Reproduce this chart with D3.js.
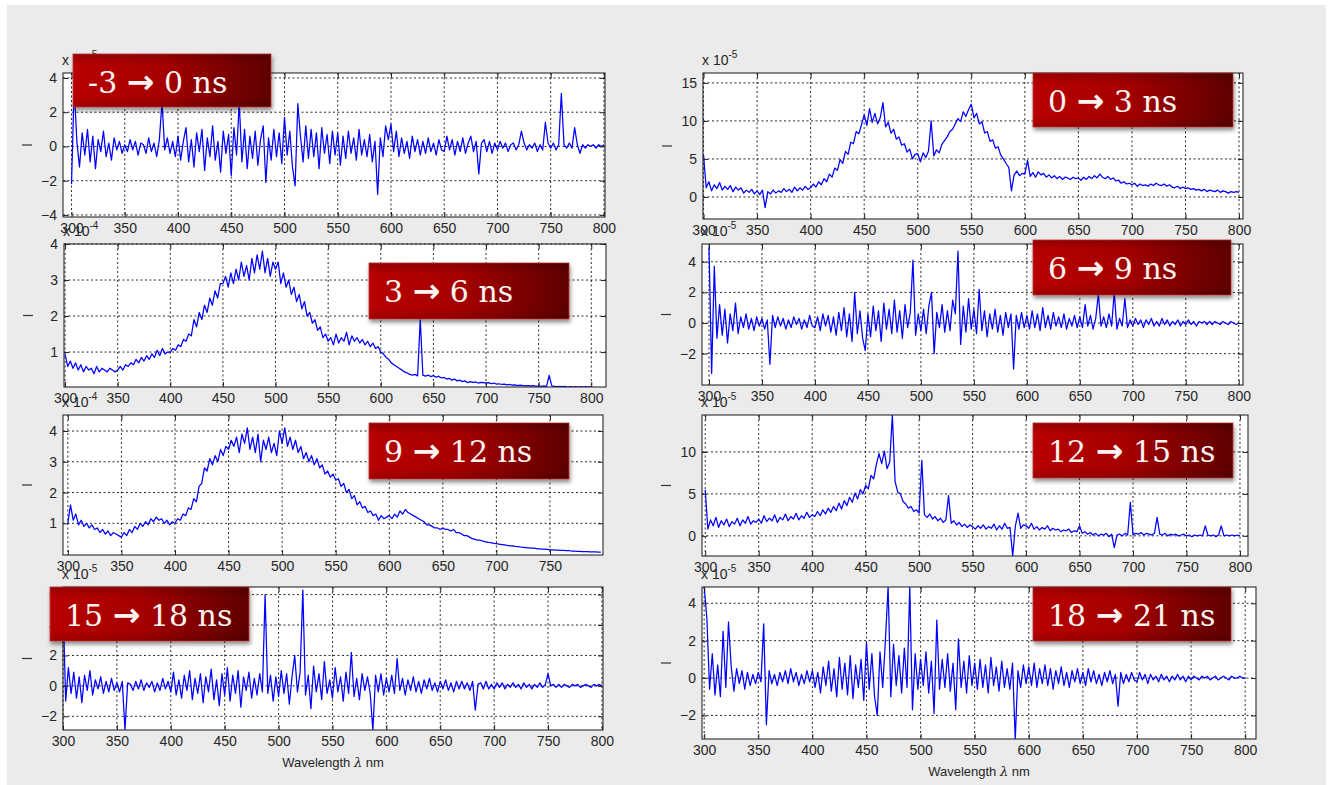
<!DOCTYPE html>
<html><head><meta charset="utf-8">
<script src="https://cdn.jsdelivr.net/npm/d3@7"></script>
<style>body{margin:0;background:#fff;} svg{display:block}</style>
</head><body><svg id="c" width="1331" height="785"></svg>
<script>
// ---- DATA (values in units of the panel multiplier) ----
const wavelengthStart = 300, wavelengthStep = 2.5; // nm, sampling grid of every series
const xTickValues = [300, 350, 400, 450, 500, 550, 600, 650, 700, 750, 800];
const panelLabels = ["-3", "0", "3", "9", "15", "6", "12", "18"];
const panelLabelEnds = ["0", "3", "6", "12", "18", "9", "15", "21"];
const exponents = [-5, -5, -4, -4, -5, -5, -5, -5];
const yTicks = [[-4,-2,0,2,4],[0,5,10,15],[1,2,3,4],[1,2,3,4],[-2,0,2,4,6],[-2,0,2,4],[0,5,10],[-2,0,2,4]];

const s_m3_0 = [-2.2,3.5,0.3,-1.2,0.8,-0.5,1.0,-0.9,0.6,-1.3,0.4,-0.3,0.9,-0.6,0.2,-0.8,0.5,-0.2,0.3,-0.4,
 0.1,-0.3,0.4,-0.2,0.3,-0.5,0.2,0.1,-0.4,0.5,-0.3,0.2,-0.6,0.4,2.6,-0.2,0.5,-0.4,0.3,-0.6,
 0.6,-0.8,0.3,1.1,-0.9,0.4,-1.2,0.8,-0.3,1.0,-1.4,0.5,-0.6,1.2,-0.8,0.3,-1.5,0.9,-0.4,0.7,
 -1.7,1.1,-0.5,2.6,-0.9,1.0,-1.3,0.6,-0.7,0.9,-1.1,0.4,1.2,-2.1,0.5,-0.8,1.0,-0.6,0.8,-1.0,
 1.7,-0.5,0.9,-1.2,-2.3,2.5,0.6,-0.9,1.2,-0.7,1.0,-0.6,0.8,-1.3,1.1,-0.4,0.7,-1.0,0.9,-0.5,
 0.8,-1.1,0.6,-0.7,0.9,-0.4,0.5,-0.8,1.0,-0.5,0.4,-0.6,0.7,-0.9,0.3,-2.8,0.5,-0.6,1.2,0.4,
 1.3,-0.3,0.9,-0.6,0.5,-0.4,0.3,-0.7,0.6,-0.3,0.4,-0.5,0.3,-0.4,0.5,-0.3,0.2,-0.5,0.4,-0.2,
 -0.3,0.6,-0.2,0.4,-0.5,0.3,-0.3,0.5,-0.4,0.2,0.6,-0.3,0.3,-1.6,0.2,0.4,-0.3,0.3,-0.4,0.2,
 -0.2,0.3,-0.1,0.2,-0.3,0.1,0.2,-0.2,0.1,0.9,0.2,-0.2,0.1,-0.1,0.2,-0.3,0.1,-0.2,1.4,0.2,
 -0.1,0.2,-0.2,0.1,3.1,0.1,-0.1,0.2,-0.1,1.1,0.1,-0.4,0.1,-0.1,0.1,0.0,0.1,-0.1,0.1,0.0,
 0.1];
const s_0_3 = [5.5,1.2,2.0,0.8,1.6,1.1,1.9,0.9,1.4,1.0,1.5,0.7,1.3,0.9,1.2,0.5,0.9,0.6,1.0,0.4,
 0.8,0.3,0.9,-1.4,0.7,0.4,0.9,0.5,0.8,0.6,1.1,0.7,1.0,0.6,1.3,0.8,1.2,0.9,1.4,1.0,
 1.2,1.7,1.3,2.0,1.6,2.4,2.0,3.0,2.6,3.8,3.5,4.9,4.4,6.0,5.6,7.2,7.0,8.6,8.3,9.5,
 10.8,9.4,11.6,9.8,11.0,9.6,10.4,12.4,9.2,9.8,8.4,8.9,7.6,7.9,6.8,7.0,5.9,6.3,5.0,5.6,
 5.7,4.6,5.8,5.2,6.0,10.0,5.4,6.2,5.8,6.9,7.4,7.9,8.6,8.9,9.6,10.3,9.9,11.2,10.6,11.5,
 12.2,10.4,11.0,9.6,9.9,8.4,8.6,7.3,7.5,6.4,6.6,5.5,5.0,4.4,3.9,0.8,2.9,3.4,2.8,3.1,
 3.0,4.8,2.7,3.2,2.6,3.3,2.9,3.1,2.6,2.9,2.5,2.8,2.4,2.7,2.3,2.6,2.5,2.3,2.6,2.4,
 2.5,2.2,2.6,2.3,2.7,2.4,2.8,2.5,3.0,2.6,2.4,2.7,2.3,2.5,2.1,2.2,1.8,2.0,1.7,1.8,
 1.6,1.8,1.4,1.7,1.5,1.6,1.4,1.7,1.5,1.8,1.6,1.5,1.7,1.4,1.6,1.3,1.2,1.4,1.1,1.3,
 1.1,1.2,1.0,1.1,0.9,1.0,0.8,1.0,0.7,0.9,0.8,0.7,0.9,0.6,0.8,0.7,0.5,0.7,0.6,0.7,
 0.6];
const s_3_6 = [0.95,0.6,0.75,0.55,0.7,0.5,0.65,0.45,0.6,0.5,0.55,0.4,0.6,0.45,0.55,0.5,0.45,0.55,0.5,0.45,
 0.5,0.6,0.5,0.65,0.6,0.7,0.65,0.8,0.7,0.85,0.75,0.9,0.8,0.95,0.85,1.05,0.9,1.1,0.95,1.0,
 1.0,1.1,1.05,1.2,1.15,1.35,1.3,1.5,1.45,1.9,1.7,2.1,1.9,2.3,2.1,2.5,2.3,2.7,2.5,2.9,
 2.9,3.1,2.8,3.2,2.9,3.3,3.0,3.5,3.1,3.4,3.0,3.6,3.2,3.7,3.3,3.8,3.2,3.6,3.1,3.5,
 3.3,3.5,2.9,3.2,2.8,3.0,2.6,2.8,2.4,2.6,2.2,2.4,2.0,2.1,1.8,1.9,1.6,1.7,1.4,1.5,
 1.3,1.4,1.2,1.5,1.25,1.4,1.3,1.55,1.2,1.45,1.3,1.4,1.25,1.35,1.2,1.3,1.15,1.25,1.1,1.15,
 1.0,0.95,0.85,0.8,0.7,0.65,0.6,0.55,0.5,0.45,0.42,0.38,0.36,0.38,0.34,1.9,0.36,0.33,0.36,0.32,
 0.35,0.3,0.33,0.28,0.3,0.25,0.27,0.22,0.25,0.2,0.22,0.18,0.2,0.15,0.18,0.16,0.17,0.14,0.16,0.15,
 0.14,0.15,0.12,0.14,0.11,0.12,0.1,0.11,0.09,0.1,0.08,0.09,0.07,0.08,0.07,0.06,0.07,0.06,0.07,0.05,
 0.06,0.05,0.06,0.05,0.35,0.06,0.05,0.04,0.05,0.04,0.05,0.03,0.04,0.03,0.04,0.03,0.04,0.03,0.04,0.03,
 0.04];
const s_9_12 = [1.0,1.6,1.1,1.3,0.95,1.1,0.9,1.0,0.85,0.95,0.8,0.85,0.7,0.8,0.65,0.75,0.6,0.7,0.65,0.6,
 0.55,0.7,0.6,0.8,0.7,0.9,0.8,1.0,0.9,1.05,0.95,1.15,1.05,1.2,1.1,1.15,1.0,1.1,0.95,1.05,
 1.0,1.15,1.1,1.3,1.25,1.5,1.45,1.8,1.7,2.2,2.3,2.8,2.7,3.1,2.9,3.2,3.0,3.4,3.2,3.5,
 3.4,3.7,3.5,3.8,3.3,3.9,3.6,4.1,3.4,3.8,3.3,3.9,3.0,3.7,3.4,3.8,3.3,3.6,3.2,4.0,
 3.6,4.1,3.5,3.8,3.4,3.7,3.3,3.5,3.1,3.3,3.0,3.2,2.9,3.1,2.8,2.9,2.6,2.7,2.5,2.6,
 2.4,2.45,2.2,2.3,2.0,2.1,1.8,1.9,1.6,1.7,1.5,1.55,1.35,1.4,1.25,1.3,1.1,1.25,1.15,1.2,
 1.25,1.15,1.3,1.2,1.4,1.3,1.45,1.35,1.3,1.25,1.2,1.15,1.1,1.05,0.95,0.95,0.9,0.85,0.85,0.8,
 0.85,0.8,0.8,0.75,0.8,0.7,0.7,0.65,0.6,0.6,0.55,0.5,0.48,0.45,0.45,0.42,0.4,0.38,0.37,0.35,
 0.34,0.32,0.31,0.3,0.28,0.27,0.27,0.25,0.24,0.23,0.22,0.21,0.2,0.19,0.19,0.18,0.17,0.16,0.16,0.15,
 0.14,0.14,0.13,0.13,0.12,0.12,0.11,0.11,0.1,0.1,0.09,0.09,0.08,0.08,0.08,0.07,0.07,0.07,0.06,0.06];
const s_15_18 = [5.5,-1.0,1.2,-0.5,0.9,-0.8,0.6,-1.1,0.7,-0.3,1.0,-0.6,0.4,-0.2,0.6,-0.5,0.3,-0.4,0.5,-0.3,
 0.2,-0.4,0.3,-2.9,0.2,0.1,-0.3,0.3,-0.2,0.4,-0.3,0.2,-0.1,0.3,-0.4,0.2,-0.3,0.5,-0.2,0.3,
 -0.4,0.9,-0.6,0.4,-0.8,0.7,-0.3,1.0,-0.9,0.5,-0.5,0.8,-1.1,0.6,-0.4,1.1,-0.9,0.4,-1.3,0.8,
 -0.6,1.2,-1.0,0.7,-0.5,1.0,-1.4,0.6,-0.3,0.9,-0.8,0.5,-0.6,0.8,-0.4,6.0,-0.5,0.7,-1.0,0.6,
 -0.7,1.0,-0.5,0.8,-1.2,0.6,2.0,-0.4,0.9,6.3,-0.6,0.7,-1.5,1.3,-0.4,0.8,-0.9,1.6,-0.5,0.4,
 -0.8,1.2,-0.4,0.6,-1.0,0.9,-0.5,2.2,-0.7,0.5,-0.9,0.8,-0.3,0.6,-0.5,-2.9,0.7,-0.4,0.8,-0.6,
 0.5,-0.4,0.7,-0.5,1.8,-0.3,0.5,-0.6,0.4,-0.3,0.6,-0.4,0.3,-0.5,0.4,-0.2,0.5,-0.3,0.2,-0.4,
 0.3,-0.2,0.4,-0.3,0.2,-0.4,0.3,-0.2,0.3,-0.2,0.2,-0.3,0.3,-1.6,0.1,0.2,-0.2,0.3,-0.2,0.1,
 -0.2,0.2,-0.1,0.2,-0.2,0.1,-0.1,0.2,-0.1,0.1,-0.2,0.2,-0.1,0.1,-0.2,0.1,-0.1,0.2,-0.1,0.1,
 0.8,0.0,0.1,-0.1,0.1,-0.1,0.1,0.0,-0.1,0.1,0.0,0.1,-0.1,0.0,0.1,0.0,-0.1,0.1,0.0,0.1,
 0.0];
const s_6_9 = [5.0,-3.3,3.7,-1.0,1.2,-0.8,0.9,-1.3,0.6,-0.5,1.3,-0.7,0.4,-0.3,0.6,-0.4,0.3,-0.5,0.4,-0.2,
 0.3,-0.4,0.2,-2.7,0.5,-0.3,0.4,-0.2,0.3,-0.4,0.2,-0.3,0.4,-0.1,0.3,-0.4,0.2,-0.3,0.5,-0.2,
 -0.3,0.4,-0.5,0.6,-0.2,0.5,-0.6,0.4,-0.8,0.7,-0.5,1.0,-0.9,0.6,-1.2,2.0,-0.7,0.8,-1.0,-1.8,
 0.6,-0.9,1.1,-0.5,0.8,-1.2,1.3,-0.4,0.9,-0.7,1.5,-0.6,0.8,-1.0,1.2,-0.3,0.7,4.1,-0.8,0.6,
 -0.5,0.9,-0.7,1.1,2.0,-2.0,0.7,-0.3,1.2,-0.6,0.8,-0.5,1.5,0.6,4.7,-1.4,1.1,-0.6,1.6,-0.4,
 0.9,-0.7,2.2,-0.5,0.8,-0.9,0.6,-0.4,0.9,-0.6,0.5,-0.8,0.7,-0.3,0.6,-3.0,0.5,-0.4,0.7,-0.3,
 0.5,-0.4,0.8,-0.3,0.6,-0.5,1.0,-0.3,0.5,-0.4,0.7,-0.2,0.4,-0.3,0.6,-0.4,0.3,-0.2,0.5,-0.3,
 0.4,-0.3,1.2,-0.2,0.5,-0.4,0.3,1.9,-0.2,0.4,-0.3,0.6,-0.2,2.0,-0.4,0.3,-0.2,1.6,-0.3,0.2,
 -0.2,0.3,-0.1,0.2,-0.3,0.2,-0.1,0.3,-0.2,0.1,-0.2,0.3,-0.1,0.2,-0.2,0.1,-0.1,0.2,-0.2,0.1,
 -0.1,0.2,-0.1,0.1,-0.2,0.1,0.0,0.1,-0.1,0.1,-0.1,0.1,0.0,-0.1,0.1,0.0,-0.1,0.1,0.0,-0.1,
 0.0];
const s_12_15 = [5.5,0.8,1.9,1.2,2.2,1.0,1.8,1.3,2.0,1.1,1.7,1.4,2.1,1.2,1.9,1.5,2.3,1.4,1.8,1.6,
 2.0,1.5,2.4,1.7,2.1,1.8,2.5,1.6,2.2,1.9,2.6,1.8,2.3,2.0,2.7,1.9,2.4,2.1,2.8,2.2,
 2.5,2.3,2.9,2.4,3.1,2.6,3.3,2.8,3.5,3.0,3.9,3.2,4.2,3.6,4.6,4.0,5.1,4.4,5.5,5.0,
 6.0,5.6,7.2,6.8,8.5,9.8,8.6,10.1,8.0,8.8,14.4,6.5,5.2,5.0,4.1,3.8,3.3,3.5,2.9,3.1,
 2.7,9.0,2.5,2.2,2.6,2.0,2.3,1.8,2.1,1.6,1.9,4.8,1.5,1.8,1.3,1.6,1.1,1.4,1.0,1.3,
 1.1,0.8,1.2,0.9,1.3,0.8,1.1,0.9,1.4,0.7,1.2,0.8,1.5,0.9,1.0,-2.4,1.2,2.7,0.9,1.3,
 1.2,0.9,1.5,0.8,1.1,0.7,1.0,0.8,1.2,0.6,0.9,0.7,0.8,0.5,0.7,0.6,0.8,0.4,0.6,0.5,
 1.2,0.3,0.5,0.2,0.4,0.1,0.3,0.0,0.2,0.1,0.3,-0.1,0.2,-1.4,0.1,0.2,0.0,0.3,0.1,4.0,
 0.1,0.3,0.2,0.4,0.1,0.3,0.2,0.1,0.3,2.2,0.2,0.1,0.3,0.0,0.2,0.1,0.2,0.0,0.1,0.2,
 0.0,0.1,-0.1,0.1,0.0,0.1,0.0,1.2,0.1,0.0,0.1,-0.1,0.1,1.2,0.0,0.1,0.0,0.1,0.0,0.1,
 0.0];
const s_18_21 = [4.9,3.2,-0.6,1.3,-0.9,0.7,-1.0,2.5,-0.5,3.0,0.6,-0.7,0.5,-0.3,0.4,-0.6,0.3,-0.4,0.2,-0.3,
 0.3,-0.2,2.9,-2.5,0.4,-0.3,0.2,-0.4,0.3,-0.2,0.4,-0.3,0.5,-0.2,0.3,-0.4,0.2,-0.3,0.4,-0.2,
 0.4,-0.5,0.3,-0.8,0.6,-0.4,0.9,-0.7,0.5,-1.0,1.1,-0.6,0.8,-0.9,1.2,-1.1,0.7,-0.5,1.0,-1.2,
 1.9,-0.6,1.3,-1.0,-2.0,1.4,-0.5,2.0,4.9,-1.0,1.8,-0.4,1.2,-0.8,1.6,-0.5,4.9,-1.7,1.3,-0.6,
 1.0,-0.4,1.4,-0.8,0.9,-1.9,3.1,-0.6,1.0,-0.5,1.3,-0.7,0.8,-1.7,2.1,-0.5,0.9,-0.8,1.2,-0.4,
 0.8,-0.6,1.0,-0.5,0.7,-0.8,1.1,-0.4,0.6,-0.7,0.9,-0.5,0.5,-0.6,0.8,-3.3,0.4,-0.5,0.7,-0.3,
 0.6,-0.4,0.8,-0.5,0.5,-0.3,0.7,-0.4,0.5,-0.6,0.4,-0.3,0.6,-0.4,0.3,-0.5,0.4,-0.2,0.5,-0.3,
 0.3,-0.4,0.5,-0.2,0.4,-0.3,0.2,-0.4,0.3,-0.2,0.4,-0.3,0.2,-1.5,0.3,-0.3,0.2,-0.2,0.3,-0.1,
 -0.2,0.3,-0.1,0.2,-0.3,0.2,-0.1,0.1,-0.2,0.2,-0.1,0.1,-0.2,0.1,-0.1,0.2,-0.1,0.1,-0.2,0.1,
 -0.1,0.1,0.0,-0.1,0.1,0.0,0.1,-0.1,0.0,0.1,-0.1,0.0,0.1,0.0,-0.1,0.1,0.0,0.0,0.1,0.0,
 0.0];

const series = [s_m3_0, s_0_3, s_3_6, s_9_12, s_15_18, s_6_9, s_12_15, s_18_21];
const xDomains = [[292,801],[299.5,803.7],[299,814],[295.5,799.5],[300,801],[293.4,804],[297,807.5],[298,810]];
const yDomains = [[-4.12,4.29],[-2.9,16.3],[0.03,4.0],[-0.03,4.52],[-2.9,6.5],[-4.05,5.16],[-2.4,14.4],[-3.26,4.87]];

// ---- LAYOUT ----
const boxes = [[63,73,605,217],[703,73,1243,219],[64,244,606,387],[63,415,603,555],[63,587,603,730],[702,244,1243,385],[702,415,1248,556],[702,587,1256,739]];
const labelBoxes = [[73,54,198,53],[1033,73,200,54],[369,263,200,56],[369,423,200,56],[50,587,199,54],[1033,240,198,55],[1033,423,200,55],[1033,587,198,54]];

const svg = d3.select('#c');
svg.append('rect').attr('x',7).attr('y',5).attr('width',1319).attr('height',780).attr('fill','#ebebeb');
const defs = svg.append('defs');
const gr = defs.append('linearGradient').attr('id','redg').attr('x1',0).attr('x2',1).attr('y1',0).attr('y2',0);
gr.append('stop').attr('offset','0%').attr('stop-color','#b80606');
gr.append('stop').attr('offset','45%').attr('stop-color','#a60000');
gr.append('stop').attr('offset','100%').attr('stop-color','#5e0000');
const gv = defs.append('linearGradient').attr('id','redv').attr('x1',0).attr('x2',0).attr('y1',0).attr('y2',1);
gv.append('stop').attr('offset','0%').attr('stop-color','#000').attr('stop-opacity',0.18);
gv.append('stop').attr('offset','20%').attr('stop-color','#000').attr('stop-opacity',0);
gv.append('stop').attr('offset','80%').attr('stop-color','#000').attr('stop-opacity',0);
gv.append('stop').attr('offset','100%').attr('stop-color','#000').attr('stop-opacity',0.15);
const f = defs.append('filter').attr('id','sh').attr('x','-10%').attr('y','-10%').attr('width','130%').attr('height','140%');
f.append('feDropShadow').attr('dx',1).attr('dy',3).attr('stdDeviation',2.2).attr('flood-color','#000').attr('flood-opacity',0.45);

const fontSans = 'Liberation Sans, Arial, sans-serif';

series.forEach((vals, k) => {
  const [L,T,R,B] = boxes[k];
  const x = d3.scaleLinear().domain(xDomains[k]).range([L,R]);
  const y = d3.scaleLinear().domain(yDomains[k]).range([B,T]);
  const g = svg.append('g');
  g.append('rect').attr('x',L).attr('y',T).attr('width',R-L).attr('height',B-T).attr('fill','#fff');
  const xt = xTickValues.filter(v => v >= xDomains[k][0] && v <= xDomains[k][1]);
  const yt = yTicks[k];
  g.selectAll('line.gx').data(xt).join('line').attr('x1',d=>x(d)).attr('x2',d=>x(d)).attr('y1',T).attr('y2',B)
    .attr('stroke','#111').attr('stroke-width',0.9).attr('stroke-dasharray','2,2.5');
  g.selectAll('line.gy').data(yt).join('line').attr('y1',d=>y(d)).attr('y2',d=>y(d)).attr('x1',L).attr('x2',R)
    .attr('stroke','#111').attr('stroke-width',0.9).attr('stroke-dasharray','2,2.5');
  const cid = 'clip'+k;
  defs.append('clipPath').attr('id',cid).append('rect').attr('x',L).attr('y',T).attr('width',R-L).attr('height',B-T);
  const line = d3.line().x((d,i)=>x(wavelengthStart + wavelengthStep*i)).y(d=>y(d));
  g.append('path').datum(vals).attr('d',line).attr('fill','none').attr('stroke','#0000ff').attr('stroke-width',1.25)
    .attr('stroke-linejoin','round').attr('clip-path',`url(#${cid})`);
  const ax = (gen, tx, ty, labels) => {
    const a = g.append('g').attr('transform',`translate(${tx},${ty})`).call(gen);
    a.select('.domain').remove();
    a.selectAll('.tick line').attr('stroke','#222');
    a.selectAll('text').attr('font-family',fontSans).attr('font-size',14).attr('fill','#262626');
    if (!labels) a.selectAll('text').remove();
  };
  ax(d3.axisBottom(x).tickValues(xt).tickSize(-5).tickPadding(6).tickFormat(d3.format('d')), 0, B, true);
  ax(d3.axisTop(x).tickValues(xt).tickSize(-5), 0, T, false);
  ax(d3.axisLeft(y).tickValues(yt).tickSize(-5).tickPadding(6).tickFormat(d3.format('d')), L, 0, true);
  ax(d3.axisRight(y).tickValues(yt).tickSize(-5), R, 0, false);
  g.append('rect').attr('x',L).attr('y',T).attr('width',R-L).attr('height',B-T).attr('fill','none').attr('stroke','#2a2a2a').attr('stroke-width',1.1);
  const m = g.append('text').attr('x',L-1).attr('y',T-8).attr('font-family',fontSans).attr('font-size',14).attr('fill','#262626');
  m.append('tspan').text('x 10');
  m.append('tspan').attr('dy',-7).attr('font-size',10).text(String(exponents[k]));
  g.append('line').attr('x1',L-41).attr('x2',L-31).attr('y1',(T+B)/2).attr('y2',(T+B)/2).attr('stroke','#333').attr('stroke-width',1.2);
  if (k === 4 || k === 7) {
    const t = g.append('text').attr('x',(L+R)/2).attr('y',B+37).attr('text-anchor','middle')
      .attr('font-family',fontSans).attr('font-size',13).attr('fill','#262626');
    t.append('tspan').text('Wavelength ');
    t.append('tspan').attr('font-family','DejaVu Serif, serif').attr('font-style','italic').text('λ');
    t.append('tspan').text(' nm');
  }
});

labelBoxes.forEach((b, k) => {
  const [bx,by,bw,bh] = b;
  const g = svg.append('g');
  g.append('rect').attr('x',bx).attr('y',by).attr('width',bw).attr('height',bh).attr('fill','url(#redg)')
    .attr('stroke','#c03a3a').attr('stroke-width',0.8).attr('filter','url(#sh)');
  g.append('rect').attr('x',bx).attr('y',by).attr('width',bw).attr('height',bh).attr('fill','url(#redv)');
  const t = g.append('text').attr('x',bx+15).attr('y',by+39).attr('font-family','DejaVu Serif, serif')
    .attr('font-size',30).attr('fill','#fdf3f0');
  t.append('tspan').text(panelLabels[k] + ' ');
  t.append('tspan').attr('font-family','DejaVu Sans, sans-serif').attr('font-weight','bold').attr('font-size',33).text('→');
  t.append('tspan').text(' ' + panelLabelEnds[k] + ' ns');
});
</script></body></html>
